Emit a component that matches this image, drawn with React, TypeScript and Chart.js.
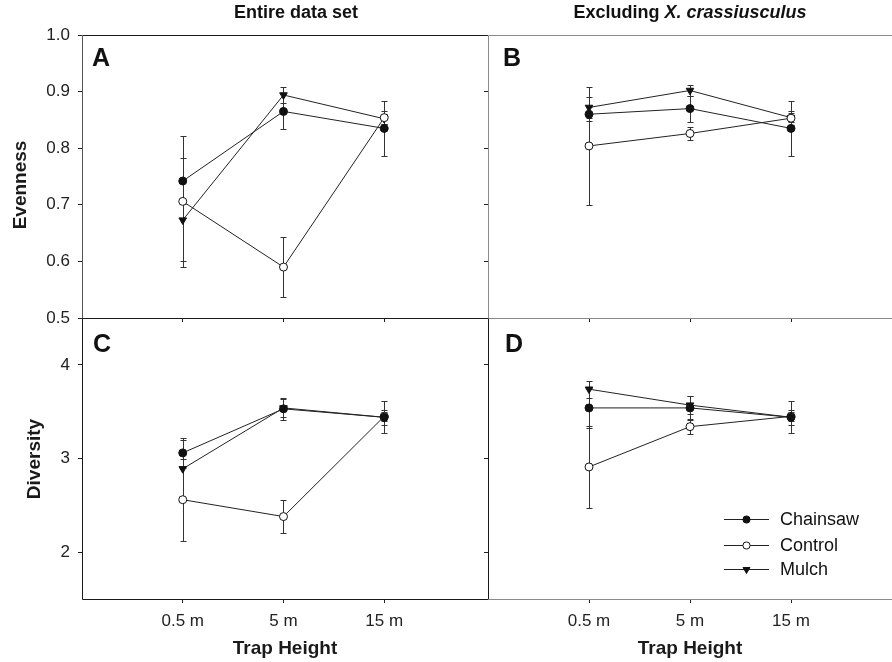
import React, { useEffect, useRef } from "react";
import { Chart, registerables } from "chart.js";

Chart.register(...registerables);

// ---------------- data ----------------
const heightLabels = ["0.5 m", "5 m", "15 m"];
const heightPositions = [1, 2, 3];
const seriesNames = ["Chainsaw", "Control", "Mulch"];

const evennessTicks = [0.5, 0.6, 0.7, 0.8, 0.9, 1.0];
const evennessTickLabels = ["0.5", "0.6", "0.7", "0.8", "0.9", "1.0"];
const diversityTicks = [2, 3, 4];
const diversityTickLabels = ["2", "3", "4"];

// Panel A: Evenness, entire data set
const evenAChainsaw = [0.742, 0.865, 0.835];
const evenAControl = [0.706, 0.59, 0.854];
const evenAMulch = [0.673, 0.894, 0.852];
const evenAChainsawErr = [0.041, 0.031, 0.048];
const evenAControlErr = [0.116, 0.053, 0.012];
const evenAMulchErr = [0.072, 0.015, 0.009];

// Panel B: Evenness, excluding X. crassiusculus
const evenBChainsaw = [0.86, 0.87, 0.835];
const evenBControl = [0.804, 0.826, 0.853];
const evenBMulch = [0.872, 0.902, 0.854];
const evenBChainsawErr = [0.012, 0.023, 0.048];
const evenBControlErr = [0.104, 0.011, 0.012];
const evenBMulchErr = [0.019, 0.009, 0.008];

// Panel C: Diversity, entire data set
const divCChainsaw = [3.06, 3.53, 3.44];
const divCControl = [2.56, 2.38, 3.45];
const divCMulch = [2.89, 3.54, 3.44];
const divCChainsawErr = [0.16, 0.12, 0.17];
const divCControlErr = [0.44, 0.18, 0.05];
const divCMulchErr = [0.31, 0.1, 0.08];

// Panel D: Diversity, excluding X. crassiusculus
const divDChainsaw = [3.54, 3.54, 3.44];
const divDControl = [2.91, 3.34, 3.45];
const divDMulch = [3.74, 3.57, 3.44];
const divDChainsawErr = [0.21, 0.13, 0.17];
const divDControlErr = [0.44, 0.08, 0.05];
const divDMulchErr = [0.09, 0.1, 0.08];

// ---------------- styles ----------------
const FONT = "'Liberation Sans', Arial, Helvetica, sans-serif";
const W = 892;
const H = 662;
const INK = "#1a1a1a";
const GREY = "#8a8a8a";

const seriesStyles = [
  { pointStyle: "circle", radius: 4, rotation: 0, fill: "#111" },
  { pointStyle: "circle", radius: 4, rotation: 0, fill: "#fff" },
  { pointStyle: "triangle", radius: 4.4, rotation: 180, fill: "#111" },
];

type Panel = {
  area: { left: number; right: number; top: number; bottom: number };
  xMax: number;
  yMin: number;
  yMax: number;
  yTicks: number[];
  yTickLabels: string[];
  showYLabels: boolean;
  yTitle?: string;
  yTitlePos?: [number, number];
  showXLabels: boolean;
  xTitle?: string;
  values: number[][];
  errors: number[][];
  letter: string;
  letterPos: [number, number];
  frame: { top: string; left: string; bottom: string; right?: string };
  header?: "left" | "right";
  legend?: boolean;
};

const panels: Panel[] = [
  {
    area: { left: 82, right: 488, top: 35, bottom: 318 },
    xMax: 4.03, yMin: 0.5, yMax: 1.0,
    yTicks: evennessTicks, yTickLabels: evennessTickLabels,
    showYLabels: true, yTitle: "Evenness", yTitlePos: [21, 185],
    showXLabels: false,
    values: [evenAChainsaw, evenAControl, evenAMulch],
    errors: [evenAChainsawErr, evenAControlErr, evenAMulchErr],
    letter: "A", letterPos: [92, 66],
    frame: { top: INK, left: "#555", bottom: INK },
    header: "left",
  },
  {
    area: { left: 488, right: 892, top: 35, bottom: 318 },
    xMax: 4, yMin: 0.5, yMax: 1.0,
    yTicks: evennessTicks, yTickLabels: evennessTickLabels,
    showYLabels: false,
    showXLabels: false,
    values: [evenBChainsaw, evenBControl, evenBMulch],
    errors: [evenBChainsawErr, evenBControlErr, evenBMulchErr],
    letter: "B", letterPos: [503, 66],
    frame: { top: GREY, left: GREY, bottom: GREY },
    header: "right",
  },
  {
    area: { left: 82, right: 488, top: 318, bottom: 599 },
    xMax: 4.03, yMin: 1.5, yMax: 4.5,
    yTicks: diversityTicks, yTickLabels: diversityTickLabels,
    showYLabels: true, yTitle: "Diversity", yTitlePos: [35, 459],
    showXLabels: true, xTitle: "Trap Height",
    values: [divCChainsaw, divCControl, divCMulch],
    errors: [divCChainsawErr, divCControlErr, divCMulchErr],
    letter: "C", letterPos: [93, 352],
    frame: { top: INK, left: INK, bottom: INK },
  },
  {
    area: { left: 488, right: 892, top: 318, bottom: 599 },
    xMax: 4, yMin: 1.5, yMax: 4.5,
    yTicks: diversityTicks, yTickLabels: diversityTickLabels,
    showYLabels: false,
    showXLabels: true, xTitle: "Trap Height",
    values: [divDChainsaw, divDControl, divDMulch],
    errors: [divDChainsawErr, divDControlErr, divDMulchErr],
    letter: "D", letterPos: [505, 352],
    frame: { top: GREY, left: INK, bottom: GREY },
    legend: true,
  },
];

function drawMarker(ctx: CanvasRenderingContext2D, i: number, x: number, y: number, r: number) {
  const s = seriesStyles[i];
  ctx.save();
  ctx.beginPath();
  if (s.pointStyle === "triangle") {
    ctx.moveTo(x, y + r);
    ctx.lineTo(x - r * 0.866, y - r / 2);
    ctx.lineTo(x + r * 0.866, y - r / 2);
    ctx.closePath();
  } else {
    ctx.arc(x, y, r, 0, Math.PI * 2);
  }
  ctx.fillStyle = s.fill;
  ctx.fill();
  ctx.lineWidth = 1;
  ctx.strokeStyle = "#111";
  ctx.stroke();
  ctx.restore();
}

function makeChart(canvas: HTMLCanvasElement, p: Panel) {
  const framePlugin = {
    id: "frame",
    afterDraw(chart: any) {
      const { ctx, chartArea: a } = chart;
      const L = Math.round(a.left) + 0.5;
      const R = Math.round(a.right) - 0.5;
      const T = Math.round(a.top) + 0.5;
      const B = Math.round(a.bottom) + 0.5;
      ctx.save();
      ctx.lineWidth = 1;
      const seg = (c: string | undefined, x1: number, y1: number, x2: number, y2: number) => {
        if (!c) return;
        ctx.strokeStyle = c;
        ctx.beginPath();
        ctx.moveTo(x1, y1);
        ctx.lineTo(x2, y2);
        ctx.stroke();
      };
      seg(p.frame.top, L, T, R + 0.5, T);
      seg(p.frame.bottom, L, B, R + 0.5, B);
      seg(p.frame.left, L, T, L, B);
      seg(p.frame.right, R, T, R, B);
      ctx.restore();
    },
  };

  const errorBarPlugin = {
    id: "errorBars",
    beforeDatasetsDraw(chart: any) {
      const { ctx } = chart;
      const xs = chart.scales.x;
      const ys = chart.scales.y;
      ctx.save();
      ctx.strokeStyle = "#333";
      ctx.lineWidth = 1;
      p.values.forEach((vals, i) => {
        vals.forEach((v, j) => {
          const e = p.errors[i][j];
          const x = Math.round(xs.getPixelForValue(heightPositions[j])) + 0.5;
          const yt = Math.round(ys.getPixelForValue(v + e)) + 0.5;
          const yb = Math.round(ys.getPixelForValue(v - e)) + 0.5;
          ctx.beginPath();
          ctx.moveTo(x, yt);
          ctx.lineTo(x, yb);
          ctx.moveTo(x - 3, yt);
          ctx.lineTo(x + 3, yt);
          ctx.moveTo(x - 3, yb);
          ctx.lineTo(x + 3, yb);
          ctx.stroke();
        });
      });
      ctx.restore();
    },
  };

  const annotationPlugin = {
    id: "annotations",
    afterDraw(chart: any) {
      const { ctx } = chart;
      ctx.save();
      ctx.fillStyle = "#111";
      ctx.textBaseline = "alphabetic";
      ctx.textAlign = "left";
      ctx.font = `bold 25px ${FONT}`;
      ctx.fillText(p.letter, p.letterPos[0], p.letterPos[1]);

      if (p.yTitle && p.yTitlePos) {
        ctx.save();
        ctx.translate(p.yTitlePos[0], p.yTitlePos[1]);
        ctx.rotate(-Math.PI / 2);
        ctx.textAlign = "center";
        ctx.textBaseline = "middle";
        ctx.font = `bold 19px ${FONT}`;
        ctx.fillStyle = INK;
        ctx.fillText(p.yTitle, 0, 0);
        ctx.restore();
      }

      ctx.textBaseline = "middle";
      if (p.header === "left") {
        ctx.textAlign = "center";
        ctx.font = `bold 18px ${FONT}`;
        ctx.fillText("Entire data set", 296, 13);
      } else if (p.header === "right") {
        ctx.textAlign = "left";
        const a = "Excluding ";
        const b = "X. crassiusculus";
        ctx.font = `bold 18px ${FONT}`;
        const wa = ctx.measureText(a).width;
        ctx.font = `italic bold 18px ${FONT}`;
        const wb = ctx.measureText(b).width;
        const x0 = 690 - (wa + wb) / 2;
        ctx.font = `bold 18px ${FONT}`;
        ctx.fillText(a, x0, 13);
        ctx.font = `italic bold 18px ${FONT}`;
        ctx.fillText(b, x0 + wa, 13);
      }

      if (p.legend) {
        const rows = [519, 545, 569];
        ctx.font = `18px ${FONT}`;
        ctx.textAlign = "left";
        ctx.textBaseline = "middle";
        seriesNames.forEach((name, i) => {
          const y = rows[i] + 0.5;
          ctx.strokeStyle = "#222";
          ctx.lineWidth = 1;
          ctx.beginPath();
          ctx.moveTo(724, y);
          ctx.lineTo(769, y);
          ctx.stroke();
          drawMarker(ctx, i, 746.5, y, i === 2 ? 4 : 3.6);
          ctx.fillStyle = "#111";
          ctx.fillText(name, 780, rows[i] + 1);
        });
      }
      ctx.restore();
    },
  };

  return new Chart(canvas, {
    type: "line",
    data: {
      datasets: p.values.map((vals, i) => ({
        label: seriesNames[i],
        data: vals.map((v, j) => ({ x: heightPositions[j], y: v })),
        borderColor: "#222",
        borderWidth: 1,
        pointStyle: seriesStyles[i].pointStyle as any,
        pointRadius: seriesStyles[i].radius,
        pointRotation: seriesStyles[i].rotation,
        pointBackgroundColor: seriesStyles[i].fill,
        pointBorderColor: "#111",
        pointBorderWidth: 1,
        tension: 0,
        fill: false,
      })),
    },
    options: {
      responsive: false,
      animation: false,
      devicePixelRatio: 1,
      layout: {
        autoPadding: false,
        padding: { left: 0, top: p.area.top, right: W - p.area.right, bottom: 0 },
      },
      plugins: {
        legend: { display: false },
        title: { display: false },
        tooltip: { enabled: false },
      },
      events: [],
      scales: {
        x: {
          type: "linear",
          position: "bottom",
          min: 0,
          max: p.xMax,
          afterBuildTicks: (s: any) => {
            s.ticks = heightPositions.map((v) => ({ value: v }));
          },
          afterFit: (s: any) => {
            s.height = H - p.area.bottom;
            s.paddingLeft = 0;
            s.paddingRight = 0;
          },
          ticks: {
            display: p.showXLabels,
            callback: (_v: any, i: number) => heightLabels[i],
            font: { family: FONT, size: 17 },
            color: "#222",
            padding: 8,
            maxRotation: 0,
            autoSkip: false,
          },
          grid: { drawOnChartArea: false, drawTicks: true, tickLength: 4, color: "#222", lineWidth: 1 },
          border: { display: false },
          title: {
            display: !!p.xTitle,
            text: p.xTitle || "",
            font: { family: FONT, size: 19, weight: "bold" },
            color: INK,
            padding: { top: 0, bottom: 2 },
          },
        },
        y: {
          type: "linear",
          position: "left",
          min: p.yMin,
          max: p.yMax,
          afterBuildTicks: (s: any) => {
            s.ticks = p.yTicks.map((v) => ({ value: v }));
          },
          afterFit: (s: any) => {
            s.width = p.area.left;
            s.paddingTop = 0;
            s.paddingBottom = 0;
          },
          ticks: {
            display: p.showYLabels,
            callback: (_v: any, i: number) => p.yTickLabels[i],
            font: { family: FONT, size: 17 },
            color: "#222",
            padding: 8,
            autoSkip: false,
          },
          grid: { drawOnChartArea: false, drawTicks: true, tickLength: 4, color: "#222", lineWidth: 1 },
          border: { display: false },
        },
      },
    },
    plugins: [errorBarPlugin, framePlugin, annotationPlugin],
  } as any);
}

function PanelCanvas({ panel }: { panel: Panel }) {
  const ref = useRef<HTMLCanvasElement | null>(null);
  useEffect(() => {
    if (!ref.current) return;
    const chart = makeChart(ref.current, panel);
    return () => chart.destroy();
  }, [panel]);
  return (
    <canvas
      ref={ref}
      width={W}
      height={H}
      style={{ position: "absolute", left: 0, top: 0, width: W, height: H }}
    />
  );
}

export default function App() {
  return (
    <div
      style={{
        position: "absolute",
        left: 0,
        top: 0,
        width: W,
        height: H,
        background: "#fff",
        overflow: "hidden",
      }}
    >
      {panels.map((p, i) => (
        <PanelCanvas key={i} panel={p} />
      ))}
    </div>
  );
}
